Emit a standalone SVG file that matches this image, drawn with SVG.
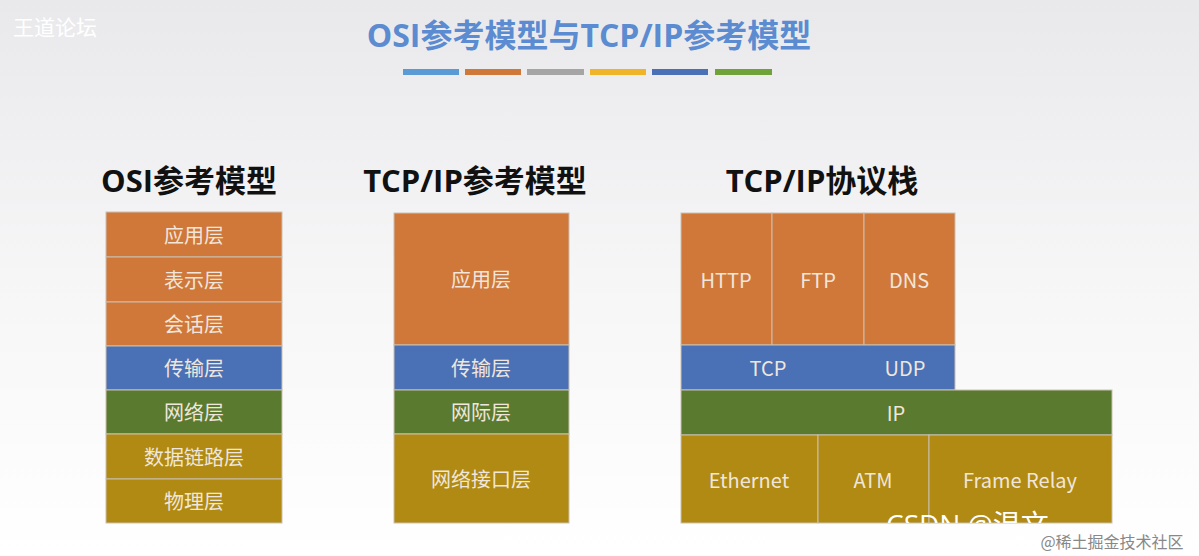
<svg xmlns="http://www.w3.org/2000/svg" width="1199" height="556" viewBox="0 0 1199 556">
<defs>
<linearGradient id="bg" x1="0" y1="0" x2="0" y2="1"><stop offset="0" stop-color="#e9e9ec"/><stop offset="0.5" stop-color="#f6f6f7"/><stop offset="1" stop-color="#ffffff"/></linearGradient>
<clipPath id="cl"><rect x="681" y="435" width="431" height="88"/></clipPath>
</defs>
<style>
.c{stroke:#c9c0b0;stroke-width:1}
.o{fill:#d0773a}.b{fill:#4a70b5}.g{fill:#5a7a30}.y{fill:#b08a12}
.t{font-family:"Noto Sans CJK SC","Open Sans",sans-serif;font-size:20px;fill:#f0e6dc;text-anchor:middle;dominant-baseline:central}
.h{font-family:"Open Sans","Noto Sans CJK SC",sans-serif;font-weight:bold;font-size:31px;fill:#111;text-anchor:middle}
</style>
<rect width="1199" height="556" fill="url(#bg)"/>
<text x="55" y="26" font-family="Noto Sans CJK SC,sans-serif" font-size="21" fill="#fff" text-anchor="middle" dominant-baseline="central">王道论坛</text>
<text x="589" y="47" font-family="Open Sans,Noto Sans CJK SC,sans-serif" font-weight="bold" font-size="32" fill="#5b8bd0" text-anchor="middle">OSI参考模型与TCP/IP参考模型</text>
<g>
<rect x="403" y="69" width="56" height="6" fill="#5b9bd5"/><rect x="465" y="69" width="56" height="6" fill="#d0773a"/><rect x="527" y="69" width="57" height="6" fill="#a5a5a5"/><rect x="590" y="69" width="56" height="6" fill="#f0b428"/><rect x="652" y="69" width="56" height="6" fill="#4a70b5"/><rect x="715" y="69" width="57" height="6" fill="#6fa33a"/>
</g>
<text class="h" x="189" y="192">OSI参考模型</text>
<text class="h" x="475" y="192">TCP/IP参考模型</text>
<text class="h" x="822" y="192">TCP/IP协议栈</text>
<g id="osi">
<rect class="o c" x="106" y="212" width="176" height="45"/><text class="t" x="194" y="234">应用层</text>
<rect class="o c" x="106" y="257" width="176" height="45"/><text class="t" x="194" y="279">表示层</text>
<rect class="o c" x="106" y="302" width="176" height="44"/><text class="t" x="194" y="323">会话层</text>
<rect class="b c" x="106" y="346" width="176" height="44"/><text class="t" x="194" y="367">传输层</text>
<rect class="g c" x="106" y="390" width="176" height="44"/><text class="t" x="194" y="411">网络层</text>
<rect class="y c" x="106" y="434" width="176" height="45"/><text class="t" x="194" y="456">数据链路层</text>
<rect class="y c" x="106" y="479" width="176" height="44"/><text class="t" x="194" y="500">物理层</text>
</g>
<g id="tcpip">
<rect class="o c" x="394" y="213" width="175" height="132"/><text class="t" x="481" y="278">应用层</text>
<rect class="b c" x="394" y="345" width="175" height="45"/><text class="t" x="481" y="367">传输层</text>
<rect class="g c" x="394" y="390" width="175" height="44"/><text class="t" x="481" y="411">网际层</text>
<rect class="y c" x="394" y="434" width="175" height="89"/><text class="t" x="481" y="478">网络接口层</text>
</g>
<g id="stack">
<rect class="o c" x="681" y="213" width="91" height="132"/><text class="t" x="726" y="279">HTTP</text>
<rect class="o c" x="772" y="213" width="92" height="132"/><text class="t" x="818" y="279">FTP</text>
<rect class="o c" x="864" y="213" width="91" height="132"/><text class="t" x="909" y="279">DNS</text>
<rect class="b c" x="681" y="345" width="274" height="45"/><text class="t" x="768" y="367">TCP</text><text class="t" x="905" y="367">UDP</text>
<rect class="g c" x="681" y="390" width="431" height="45"/><text class="t" x="896" y="412">IP</text>
<rect class="y c" x="681" y="435" width="137" height="88"/><text class="t" x="749" y="479">Ethernet</text>
<rect class="y c" x="818" y="435" width="111" height="88"/><text class="t" x="873" y="479">ATM</text>
<rect class="y c" x="929" y="435" width="183" height="88"/><text class="t" x="1020" y="479">Frame Relay</text>
<text x="886" y="535" clip-path="url(#cl)" font-family="Open Sans,Noto Sans CJK SC,sans-serif" font-size="28" fill="#fff">CSDN @温文</text>
</g>
<text x="1112" y="541" font-family="Noto Sans CJK SC,sans-serif" font-size="16" fill="#888" text-anchor="middle" dominant-baseline="central">@稀土掘金技术社区</text>
</svg>
